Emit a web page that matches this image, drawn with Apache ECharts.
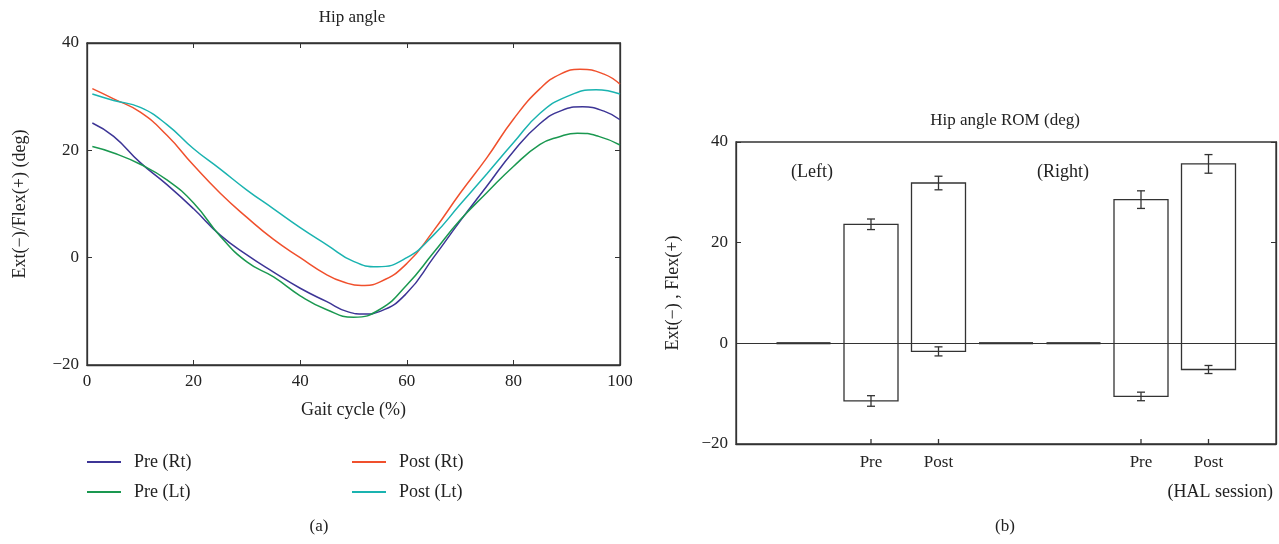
<!DOCTYPE html>
<html>
<head>
<meta charset="utf-8">
<script src="https://cdn.jsdelivr.net/npm/echarts@6/dist/echarts.min.js"></script>
<style>
  html, body { margin: 0; padding: 0; background: #fff; }
  #chart { width: 1279px; height: 544px; }
</style>
</head>
<body>
<div id="chart"></div>
<script>
// hip angle curves, read at gait cycle % (each curve also read at its own min/max)
const preRtX  = [1, 5, 10, 15, 20, 25, 30, 35, 40, 45, 49, 52, 55, 60, 65, 70, 75, 80, 85, 89, 93, 97, 100];
const preRt   = [25.1, 22.6, 17.7, 13.6, 9.1, 4.2, 0.5, -2.7, -5.7, -8.2, -10.1, -10.5, -10.0, -6.6, 0.0, 6.8, 13.3, 19.8, 25.0, 27.4, 28.1, 27.3, 25.7];
const preLtX  = [1, 5, 10, 15, 20, 25, 30, 35, 40, 45, 50, 55, 60, 65, 70, 75, 80, 85, 88.5, 92, 96, 100];
const preLt   = [20.7, 19.5, 17.4, 14.5, 10.2, 4.0, -0.8, -3.6, -7.1, -9.7, -11.1, -9.6, -5.1, 0.9, 7.0, 12.1, 17.0, 21.1, 22.5, 23.2, 22.6, 21.0];
const postRtX = [1, 5, 10, 15, 20, 25, 30, 35, 40, 45, 48, 51.5, 55, 60, 65, 70, 75, 80, 85, 89, 92.5, 97, 100];
const postRt  = [31.5, 29.6, 27.1, 22.8, 17.2, 12.0, 7.5, 3.4, 0.0, -3.2, -4.5, -5.2, -4.5, -1.1, 5.0, 12.0, 18.6, 25.8, 31.5, 34.3, 35.1, 34.2, 32.3];
const postLtX = [1, 5, 10, 15, 20, 25, 30, 35, 40, 45, 50, 54.5, 60, 65, 70, 75, 80, 85, 90, 95.5, 100];
const postLt  = [30.5, 29.3, 28.0, 24.8, 20.3, 16.5, 12.6, 9.1, 5.6, 2.4, -0.7, -1.7, 0.0, 4.2, 9.9, 15.6, 21.4, 26.9, 30.0, 31.3, 30.5];

// ROM bars (slots 1..7 on the x scale)
const romLabels = ['', 'Pre', 'Post', '', '', 'Pre', 'Post'];
const romFlex   = [0, 23.65, 31.85, 0, 0, 28.55, 35.65];
const romExt    = [0, -11.45, -1.6, 0, 0, -10.55, -5.2];
const romFlexSd = [0, 1.05, 1.35, 0, 0, 1.75, 1.85];
const romExtSd  = [0, 1.05, 0.9, 0, 0, 0.85, 0.8];

const serif = '"Liberation Serif", "DejaVu Serif", serif';
const ink = '#333';

function pts(xs, ys) {
  return xs.map((x, i) => [x, ys[i]]);
}

const romData = romLabels.map((l, i) => [i + 1, romFlex[i], romExt[i], romFlexSd[i], romExtSd[i]]);

function renderBar(params, api) {
  const x = api.value(0), top = api.value(1), bot = api.value(2);
  const sdT = api.value(3), sdB = api.value(4);
  const p1 = api.coord([x - 0.4, top]);
  const p2 = api.coord([x + 0.4, bot]);
  const children = [];
  if (top === 0 && bot === 0) {
    children.push({ type: 'line', shape: { x1: p1[0], y1: p1[1], x2: p2[0], y2: p2[1] },
      style: { stroke: '#111', lineWidth: 2 } });
    return { type: 'group', children };
  }
  children.push({ type: 'rect', shape: { x: p1[0], y: p1[1], width: p2[0] - p1[0], height: p2[1] - p1[1] },
    style: { fill: '#fff', stroke: ink, lineWidth: 1.3 } });
  [[top, sdT], [bot, sdB]].forEach(function (e) {
    const a = api.coord([x, e[0] + e[1]]);
    const b = api.coord([x, e[0] - e[1]]);
    children.push({ type: 'line', shape: { x1: a[0], y1: a[1], x2: b[0], y2: b[1] }, style: { stroke: ink, lineWidth: 1.3 } });
    children.push({ type: 'line', shape: { x1: a[0] - 4, y1: a[1], x2: a[0] + 4, y2: a[1] }, style: { stroke: ink, lineWidth: 1.3 } });
    children.push({ type: 'line', shape: { x1: b[0] - 4, y1: b[1], x2: b[0] + 4, y2: b[1] }, style: { stroke: ink, lineWidth: 1.3 } });
  });
  return { type: 'group', children };
}

const chart = echarts.init(document.getElementById('chart'));

const axisBase = {
  axisLine: { onZero: false, lineStyle: { color: ink, width: 1.3 } },
  axisTick: { inside: true, length: 5, lineStyle: { color: ink } },
  splitLine: { show: false },
  axisLabel: { fontFamily: serif, fontSize: 17, color: '#222' }
};

const lineColors = ['#3d3596', '#1a9850', '#f0502d', '#1ab3b0'];

function negFmt(v) { return v < 0 ? '\u2212' + Math.abs(v) : String(v); }

function curve(name, xs, ys, color) {
  return {
    name: name, type: 'line', xAxisIndex: 0, yAxisIndex: 0, data: pts(xs, ys),
    smooth: 0.5, showSymbol: false,
    lineStyle: { width: 1.5, color: color }, itemStyle: { color: color }
  };
}

chart.setOption({
  animation: false,
  textStyle: { fontFamily: serif },
  grid: [
    { left: 87, right: 659, top: 43, bottom: 179, show: true, borderColor: ink, borderWidth: 1.3 },
    { left: 736, right: 2, top: 142, bottom: 100, show: true, borderColor: ink, borderWidth: 1.3 }
  ],
  xAxis: [
    Object.assign({}, axisBase, {
      type: 'value', gridIndex: 0, min: 0, max: 100, interval: 20,
      name: 'Gait cycle (%)', nameLocation: 'middle', nameGap: 36,
      nameTextStyle: { fontFamily: serif, fontSize: 18, color: '#222' },
      axisLabel: Object.assign({}, axisBase.axisLabel, { margin: 8 })
    }),
    Object.assign({}, axisBase, {
      type: 'value', gridIndex: 0, min: 0, max: 100, interval: 20, position: 'top',
      axisLabel: { show: false }
    }),
    Object.assign({}, axisBase, {
      type: 'value', gridIndex: 1, min: 0, max: 8, interval: 1,
      axisTick: { show: false },
      axisLabel: Object.assign({}, axisBase.axisLabel, {
        margin: 10,
        formatter: function (v) { return romLabels[v - 1] || ''; }
      })
    })
  ],
  yAxis: [
    Object.assign({}, axisBase, {
      type: 'value', gridIndex: 0, min: -20, max: 40, interval: 20,
      name: 'Ext(\u2212)/Flex(+) (deg)', nameLocation: 'middle', nameGap: 58,
      nameTextStyle: { fontFamily: serif, fontSize: 18, color: '#222' },
      axisLabel: Object.assign({}, axisBase.axisLabel, { formatter: negFmt })
    }),
    Object.assign({}, axisBase, {
      type: 'value', gridIndex: 0, min: -20, max: 40, interval: 20, position: 'right',
      axisLabel: { show: false }
    }),
    Object.assign({}, axisBase, {
      type: 'value', gridIndex: 1, min: -20, max: 40, interval: 20,
      name: 'Ext(\u2212) , Flex(+)', nameLocation: 'middle', nameGap: 54,
      nameTextStyle: { fontFamily: serif, fontSize: 18, color: '#222' },
      axisLabel: Object.assign({}, axisBase.axisLabel, { formatter: negFmt })
    }),
    Object.assign({}, axisBase, {
      type: 'value', gridIndex: 1, min: -20, max: 40, interval: 20, position: 'right',
      axisLabel: { show: false }
    })
  ],
  legend: [
    {
      left: 82, top: 448, orient: 'vertical', itemGap: 12,
      icon: 'rect', itemWidth: 34, itemHeight: 2,
      textStyle: { fontFamily: serif, fontSize: 18, color: '#222', padding: [0, 0, 0, 8] },
      data: ['Pre (Rt)', 'Pre (Lt)']
    },
    {
      left: 347, top: 448, orient: 'vertical', itemGap: 12,
      icon: 'rect', itemWidth: 34, itemHeight: 2,
      textStyle: { fontFamily: serif, fontSize: 18, color: '#222', padding: [0, 0, 0, 8] },
      data: ['Post (Rt)', 'Post (Lt)']
    }
  ],
  graphic: [
    { type: 'text', x: 352, y: 18, style: { text: 'Hip angle', font: '17px ' + serif, fill: '#222', align: 'center', verticalAlign: 'middle' } },
    { type: 'text', x: 1005, y: 121, style: { text: 'Hip angle ROM (deg)', font: '17px ' + serif, fill: '#222', align: 'center', verticalAlign: 'middle' } },
    { type: 'text', x: 812, y: 172, style: { text: '(Left)', font: '18px ' + serif, fill: '#222', align: 'center', verticalAlign: 'middle' } },
    { type: 'text', x: 1063, y: 172, style: { text: '(Right)', font: '18px ' + serif, fill: '#222', align: 'center', verticalAlign: 'middle' } },
    { type: 'text', x: 1273, y: 492, style: { text: '(HAL session)', font: '18px ' + serif, fill: '#222', align: 'right', verticalAlign: 'middle' } },
    { type: 'text', x: 319, y: 527, style: { text: '(a)', font: '17px ' + serif, fill: '#222', align: 'center', verticalAlign: 'middle' } },
    { type: 'text', x: 1005, y: 527, style: { text: '(b)', font: '17px ' + serif, fill: '#222', align: 'center', verticalAlign: 'middle' } }
  ],
  series: [
    curve('Pre (Rt)', preRtX, preRt, lineColors[0]),
    curve('Pre (Lt)', preLtX, preLt, lineColors[1]),
    curve('Post (Rt)', postRtX, postRt, lineColors[2]),
    curve('Post (Lt)', postLtX, postLt, lineColors[3]),
    {
      type: 'line', xAxisIndex: 2, yAxisIndex: 2, data: [], silent: true,
      markLine: { silent: true, symbol: 'none', label: { show: false }, lineStyle: { color: ink, width: 1.2, type: 'solid' }, data: [{ yAxis: 0 }] }
    },
    { type: 'custom', xAxisIndex: 2, yAxisIndex: 2, data: romData, renderItem: renderBar, z: 3 },
    {
      // inward ticks under the Pre/Post labels
      type: 'custom', xAxisIndex: 2, yAxisIndex: 2, z: 4,
      data: romData.filter(d => romLabels[d[0] - 1] !== ''),
      renderItem: function (params, api) {
        const p = api.coord([api.value(0), -20]);
        return { type: 'line', shape: { x1: p[0], y1: p[1], x2: p[0], y2: p[1] - 5 }, style: { stroke: ink, lineWidth: 1.3 } };
      }
    }
  ]
});
</script>
</body>
</html>
